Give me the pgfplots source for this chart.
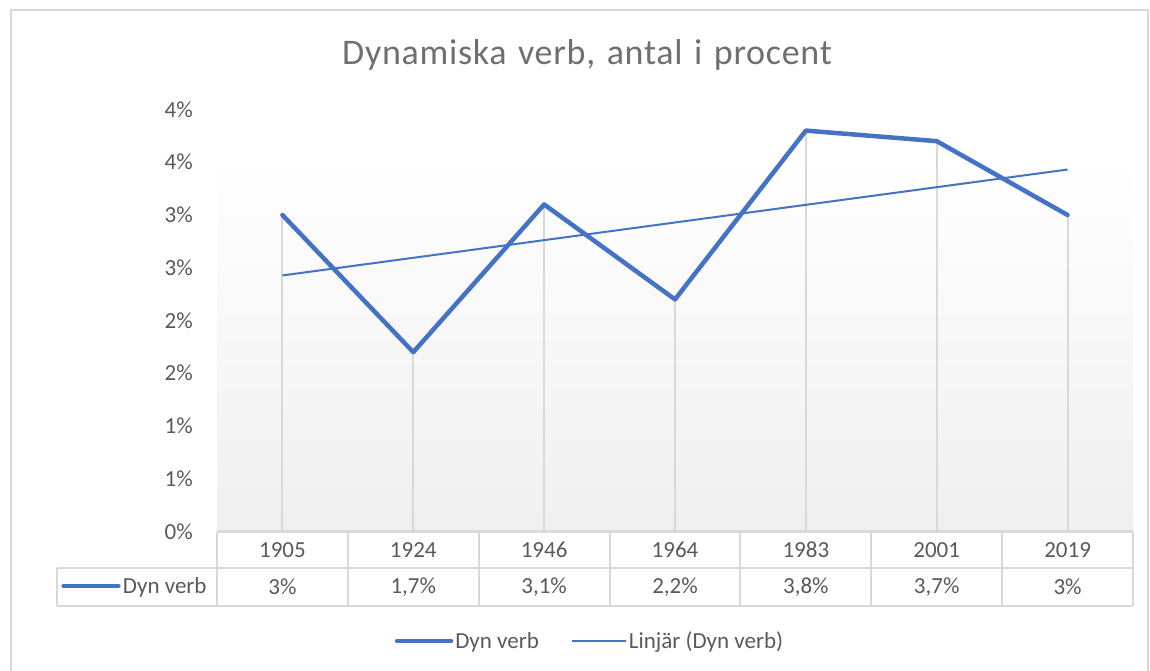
\documentclass[border=0pt]{standalone}
\usepackage{pgfplots}
\pgfplotsset{compat=1.18}
\usepackage{fontspec}
\setmainfont{Carlito}
\newfontfamily\titlefont[LetterSpace=2.0, WordSpace={1.3}]{Carlito}
\definecolor{exblue}{HTML}{4472C4}
\definecolor{txt}{HTML}{595959}
\definecolor{ttl}{HTML}{6F6F6F}
\definecolor{gridc}{HTML}{D9D9D9}
\tikzset{tf/.style={txt, font=\fontsize{23bp}{26bp}\selectfont}}
\begin{document}
\begin{tikzpicture}
\draw[gridc, line width=2bp] (11bp,-10bp) -- (11bp,661bp) -- (1148bp,661bp) -- (1148bp,-10bp);
\node[ttl, font=\titlefont\fontsize{36bp}{40bp}\selectfont] at (587bp,616bp) {Dynamiska verb, antal i procent};
\begin{axis}[
  at={(217bp,139.5bp)}, anchor=south west,
  scale only axis, width=916bp, height=422bp,
  xmin=0.5, xmax=7.5, ymin=0, ymax=4,
  axis line style={draw=none}, major tick length=0pt,
  xtick=\empty,
  ytick={0,0.5,...,4},
  yticklabels={0\%,1\%,1\%,2\%,2\%,3\%,3\%,4\%,4\%},
  yticklabel style={font=\fontsize{23bp}{26bp}\selectfont, text=txt, anchor=east, inner sep=0pt, xshift=-24bp},
  clip=false,
  legend columns=2,
  legend style={at={(0.4072,-0.2595)}, anchor=center, draw=none, fill=none,
    font=\fontsize{23bp}{26bp}\selectfont, text=txt,
    /tikz/every even column/.append style={column sep=30bp}},
  legend image code/.code={\draw[#1] (0bp,0bp) -- (54bp,0bp);},
]
\fill[top color=white, bottom color=black!6] (axis cs:0.5,0) rectangle (axis cs:7.5,3.56);
\addplot[ycomb, draw=gridc, line width=2bp, no marks, forget plot] coordinates {
  (1,3.0) (2,1.7) (3,3.1) (4,2.2) (5,3.8) (6,3.7) (7,3.0)};
\addplot[exblue, line width=4.5bp, line join=round, line cap=round, no marks] coordinates {
  (1,3.0) (2,1.7) (3,3.1) (4,2.2) (5,3.8) (6,3.7) (7,3.0)};
\addlegendentry{Dyn verb}
\addplot[exblue, line width=2bp, no marks] coordinates {(1,2.427) (7,3.431)};
\addlegendentry{Linjär (Dyn verb)}
% data table
\draw[gridc, line width=2bp] (axis cs:0.5,0) -- (axis cs:7.5,0);
\draw[gridc, line width=2bp] (axis cs:-0.725,-0.346) -- (axis cs:7.5,-0.346);
\draw[gridc, line width=2bp] (axis cs:-0.725,-0.706) -- (axis cs:7.5,-0.706);
\draw[gridc, line width=2bp] (axis cs:-0.725,-0.346) -- (axis cs:-0.725,-0.706);
\pgfplotsinvokeforeach{0.5,1.5,2.5,3.5,4.5,5.5,6.5,7.5}{
  \draw[gridc, line width=2bp] (axis cs:#1,0) -- (axis cs:#1,-0.706);
}
\draw[exblue, line width=4.5bp, line cap=round] (axis cs:-0.672,-0.516) -- (axis cs:-0.253,-0.516);
\node[tf, anchor=west, inner sep=0pt] at (axis cs:-0.220,-0.526) {Dyn verb};
\node[tf] at (axis cs:1,-0.173) {1905};
\node[tf] at (axis cs:2,-0.173) {1924};
\node[tf] at (axis cs:3,-0.173) {1946};
\node[tf] at (axis cs:4,-0.173) {1964};
\node[tf] at (axis cs:5,-0.173) {1983};
\node[tf] at (axis cs:6,-0.173) {2001};
\node[tf] at (axis cs:7,-0.173) {2019};
\node[tf] at (axis cs:1,-0.526) {3\%};
\node[tf] at (axis cs:2,-0.526) {1,7\%};
\node[tf] at (axis cs:3,-0.526) {3,1\%};
\node[tf] at (axis cs:4,-0.526) {2,2\%};
\node[tf] at (axis cs:5,-0.526) {3,8\%};
\node[tf] at (axis cs:6,-0.526) {3,7\%};
\node[tf] at (axis cs:7,-0.526) {3\%};
\end{axis}
\pgfresetboundingbox
\path (0bp,0bp) rectangle (1150bp,671bp);
\end{tikzpicture}
\end{document}
